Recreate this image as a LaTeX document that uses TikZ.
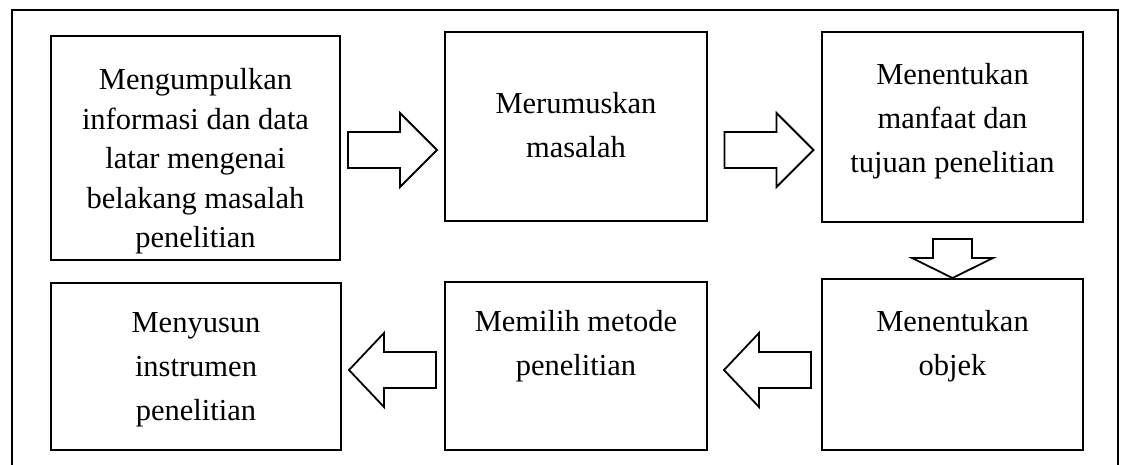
\documentclass[tikz,border=0pt]{standalone}
\usepackage{fontspec}
\setmainfont{Liberation Serif}
\usetikzlibrary{calc}
\begin{document}
\begin{tikzpicture}[x=1pt,y=-1pt,
  frame/.style={draw,line width=2pt},
  box/.style={draw,line width=2pt,inner sep=0pt},
  lbl/.style={align=center,font=\fontsize{30.5}{44}\selectfont,inner sep=0pt},
  blk/.style={draw,line width=1.8pt,fill=white,line join=miter},
  rblock/.pic={\draw[blk] (-44.5,-18) -- (7.5,-18) -- (7.5,-37) -- (44.5,0) -- (7.5,37) -- (7.5,18) -- (-44.5,18) -- cycle;},
  lblock/.pic={\draw[blk] (44,-18) -- (-8,-18) -- (-8,-37) -- (-43,0) -- (-8,37) -- (-8,18) -- (44,18) -- cycle;},
  dblock/.pic={\draw[blk] (-19.5,-19.5) -- (19.5,-19.5) -- (19.5,-0.5) -- (40.5,-0.5) -- (0,19.5) -- (-40.5,-0.5) -- (-19.5,-0.5) -- cycle;}
]
\useasboundingbox (0,0) rectangle (1122,465);
\draw[frame] (12,466) -- (12,10) -- (1118,10) -- (1118,466);

\node[box,minimum width=289pt,minimum height=224pt] (b1) at (195.5,148) {};
\node[box,minimum width=262pt,minimum height=189pt] (b2) at (576,126.5) {};
\node[box,minimum width=261pt,minimum height=190pt] (b3) at (952.5,127) {};
\node[box,minimum width=261pt,minimum height=171pt] (b4) at (952.5,364.5) {};
\node[box,minimum width=262pt,minimum height=168pt] (b5) at (576,366) {};
\node[box,minimum width=290pt,minimum height=167pt] (b6) at (196,366.5) {};

\node[lbl,font=\fontsize{30.5}{39.5}\selectfont] (t1) at (195.5,161.5) {Mengumpulkan\\informasi dan data\\latar mengenai\\belakang masalah\\penelitian};
\node[lbl] (t2) at (576,125) {Merumuskan\\masalah};
\node[lbl] (t3) at (952.5,121) {Menentukan\\manfaat dan\\tujuan penelitian};
\node[lbl] (t4) at (952.5,346) {Menentukan\\objek};
\node[lbl] (t5) at (576,346) {Memilih metode\\penelitian};
\node[lbl] (t6) at (196,370) {Menyusun\\instrumen\\penelitian};

\pic at (392.5,150) {rblock};
\pic at (769,150) {rblock};
\pic at (952.5,258.5) {dblock};
\pic at (767,370) {lblock};
\pic at (392,370) {lblock};
\end{tikzpicture}
\end{document}
